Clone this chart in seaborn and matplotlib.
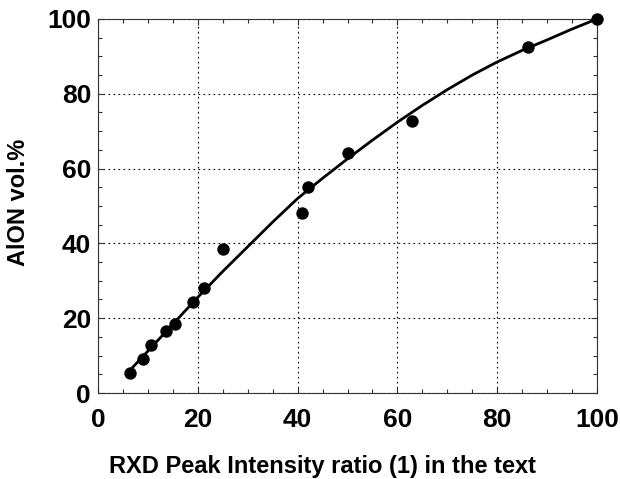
import numpy as np
import pandas as pd
import seaborn as sns
import matplotlib.pyplot as plt
from matplotlib.ticker import MultipleLocator

ratio = [6.4, 9.1, 10.7, 13.6, 15.4, 19.0, 21.3, 25.1, 40.9, 42.1, 50.0, 62.9, 86.1, 100.0]
alon = [5.4, 9.0, 12.8, 16.7, 18.4, 24.2, 28.2, 38.4, 48.2, 55.1, 64.1, 72.8, 92.4, 100.0]

# --- calibration curve ---
curve_x = [6, 10, 15, 20, 25, 30, 35, 40, 45, 50, 55, 60, 65, 70, 75, 80, 85, 90, 95, 100]
curve_y = [5.5, 11.2, 18.4, 25.6, 32.5, 39.1, 45.7, 52.0, 57.4, 62.6, 67.6, 72.4, 76.9,
           81.1, 85.0, 88.5, 91.6, 94.4, 97.3, 100.0]

pts = pd.DataFrame({'ratio': ratio, 'alon': alon})
fit = pd.DataFrame({'x': curve_x, 'y': curve_y})

sns.set_style('ticks')
plt.rcParams['font.family'] = ['Liberation Sans', 'DejaVu Sans']
plt.rcParams['font.weight'] = 'bold'
plt.rcParams['text.color'] = 'black'
plt.rcParams['axes.labelcolor'] = 'black'
plt.rcParams['xtick.labelcolor'] = 'black'
plt.rcParams['ytick.labelcolor'] = 'black'

fig = plt.figure(figsize=(6.2, 4.79), dpi=100)
ax = fig.add_axes([0.158, 0.1795, 0.805, 0.781])

sns.lineplot(data=fit, x='x', y='y', ax=ax, color='black', linewidth=2.0, zorder=3)
sns.scatterplot(data=pts, x='ratio', y='alon', ax=ax, color='black', s=80,
                edgecolor='black', linewidth=0, zorder=4, clip_on=False)

ax.set_xlim(0, 100)
ax.set_ylim(0, 100)
ax.xaxis.set_major_locator(MultipleLocator(20))
ax.yaxis.set_major_locator(MultipleLocator(20))
ax.xaxis.set_minor_locator(MultipleLocator(5))
ax.yaxis.set_minor_locator(MultipleLocator(5))
ax.tick_params(which='both', direction='in', top=True, right=True, width=0.8, color='#333333')
ax.tick_params(which='major', length=4, labelsize=19, labelcolor='black')
ax.tick_params(axis='x', which='major', pad=11)
ax.tick_params(axis='y', which='major', pad=5)
ax.tick_params(which='minor', length=3)
for lab in ax.get_xticklabels() + ax.get_yticklabels():
    lab.set_fontweight('bold')

ax.grid(True, which='major', color='black', linestyle=(0, (1.5, 3)), linewidth=0.8)
for s in ax.spines.values():
    s.set_linewidth(0.8)
    s.set_color('#333333')

ax.set_xlabel('RXD Peak Intensity ratio (1) in the text', fontsize=17, fontweight='bold', color='black')
ax.set_ylabel('AlON vol.%', fontsize=17, fontweight='bold', color='black')
ax.xaxis.set_label_coords(0.45, -0.165)
ax.yaxis.set_label_coords(-0.136, 0.51)

plt.savefig('out.png', dpi=100)
plt.close()
